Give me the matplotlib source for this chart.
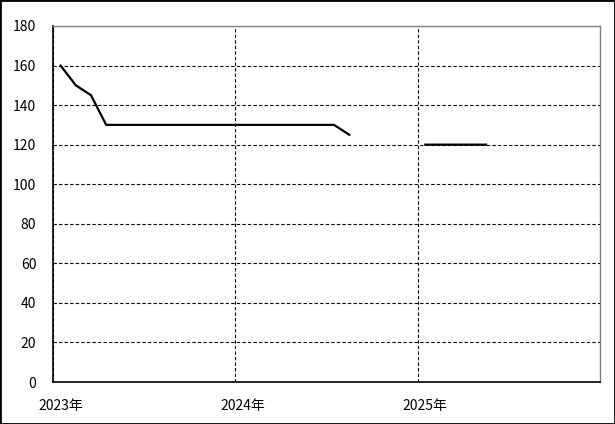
import matplotlib.pyplot as plt
import numpy as np
from matplotlib.patches import Rectangle

plt.rcParams['font.family'] = ['Noto Sans CJK JP', 'DejaVu Sans']

# monthly values, 2023-01 .. 2025-05 (nan = no data)
months = [f"{y}-{m:02d}" for y in (2023, 2024, 2025) for m in range(1, 13)][:29]
values = [160, 150, 145, 130, 130, 130, 130, 130, 130, 130, 130, 130,
          130, 130, 130, 130, 130, 130, 130, 125,
          np.nan, np.nan, np.nan, np.nan,
          120, 120, 120, 120, 120]
year_labels = ["2023年", "2024年", "2025年"]

fig = plt.figure(figsize=(6.15, 4.24), dpi=100)
ax = fig.add_axes([53/615, 42/424, 547/615, 356/424])

x = np.arange(len(months)) + 0.5
ax.plot(x, values, color='black', lw=1.6, solid_joinstyle='miter')

ax.set_xlim(0, 36)
ax.set_ylim(0, 180)
ax.set_yticks(range(0, 181, 20))
ax.set_xticks([0, 12, 24])
ax.set_xticklabels([])
ax.set_xticks([0.5, 12.5, 24.5], minor=True)
ax.set_xticklabels(year_labels, minor=True)
ax.tick_params(axis='both', which='both', length=0, labelsize=10)
ax.tick_params(axis='x', which='minor', pad=12)
ax.tick_params(axis='y', pad=12)

ax.grid(True, which='major', color='black', linestyle=(0, (3, 2)), lw=0.8)
ax.set_axisbelow(True)
for s in ('left', 'bottom'):
    ax.spines[s].set_color('black')
    ax.spines[s].set_linewidth(1.2)
for s in ('top', 'right'):
    ax.spines[s].set_color('#808080')
    ax.spines[s].set_linewidth(1)

fig.patches.append(Rectangle((0, 0), 1, 1, transform=fig.transFigure,
                             fill=False, edgecolor='black', lw=2))
fig.savefig('out.png', dpi=100)
